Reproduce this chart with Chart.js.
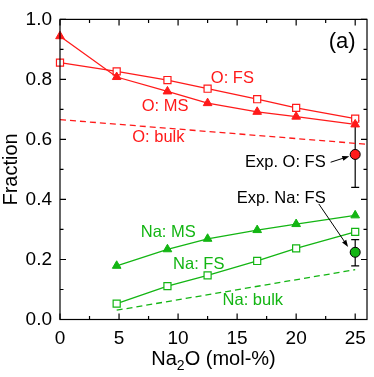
<!DOCTYPE html>
<html>
<head>
<meta charset="utf-8">
<script src="https://cdn.jsdelivr.net/npm/chart.js@4.4.1/dist/chart.umd.min.js"></script>
<style>
  html, body { margin: 0; padding: 0; background: #fff; }
  #wrap { width: 374px; height: 377px; }
</style>
</head>
<body>
<div id="wrap"><canvas id="myChart" width="374" height="377"></canvas></div>
<script>
// Na2O content (mol-%)
const naO = [0, 4.8, 9.1, 12.5, 16.7, 20, 25];
const oFS = [0.856, 0.827, 0.798, 0.769, 0.734, 0.705, 0.669];
const oMS = [0.944, 0.808, 0.760, 0.721, 0.692, 0.676, 0.650];
const oBulkX = [0, 26];
const oBulk = [0.666, 0.584];

const naX = [4.8, 9.1, 12.5, 16.7, 20, 25];
const naMS = [0.179, 0.234, 0.269, 0.298, 0.318, 0.347];
const naFS = [0.053, 0.111, 0.147, 0.195, 0.237, 0.292];
const naBulkX = [4.8, 25];
const naBulk = [0.031, 0.166];

const expX = [25];
const expOFS = [0.550];
const expOErr = [0.440, 0.663];
const expNaFS = [0.224];
const expNaErr = [0.179, 0.266];

const xTicks = [0, 5, 10, 15, 20, 25];
const yTicks = [0, 0.2, 0.4, 0.6, 0.8, 1.0];

const RED = '#ff1a1a';
const GREEN = '#13b513';
const FONT = '"Liberation Sans", Arial, Helvetica, sans-serif';

// text labels: [text, x, y, color, align]
const labels = [
    ['O: FS', 14.6, 0.803, RED, 'center'],
    ['O: MS', 8.9, 0.711, RED, 'center'],
    ['O: bulk', 8.33, 0.605, RED, 'center'],
    ['Exp. O: FS', 22.5, 0.524, '#000', 'right'],
    ['Exp. Na: FS', 22.5, 0.402, '#000', 'right'],
    ['Na: MS', 9.17, 0.289, GREEN, 'center'],
    ['Na: FS', 11.75, 0.185, GREEN, 'center'],
    ['Na: bulk', 16.33, 0.063, GREEN, 'center']
];
// arrows: [x0, y0, x1, y1]
const arrows = [
    [22.92, 0.524, 24.5, 0.544],
    [21.92, 0.385, 24.4, 0.242]
];

function pts(xs, ys) {
    return xs.map((x, i) => ({ x: x, y: ys[i] }));
}

const framePlugin = {
    id: 'frame',
    beforeDatasetsDraw(chart) {
        const ctx = chart.ctx;
        const xs = chart.scales.x, ys = chart.scales.y;
        ctx.save();
        ctx.strokeStyle = '#000';
        ctx.lineWidth = 1.2;
        // error bars
        const bars = [[expOFS, expOErr], [expNaFS, expNaErr]];
        bars.forEach(function(b) {
            const px = xs.getPixelForValue(expX[0]);
            const y0 = ys.getPixelForValue(b[1][0]);
            const y1 = ys.getPixelForValue(b[1][1]);
            ctx.beginPath();
            ctx.moveTo(px, y0); ctx.lineTo(px, y1);
            ctx.moveTo(px - 4, y0); ctx.lineTo(px + 4, y0);
            ctx.moveTo(px - 4, y1); ctx.lineTo(px + 4, y1);
            ctx.stroke();
        });
        ctx.restore();
    },
    afterDraw(chart) {
        const ctx = chart.ctx;
        const a = chart.chartArea;
        const xs = chart.scales.x, ys = chart.scales.y;
        ctx.save();
        ctx.strokeStyle = '#000';
        ctx.lineWidth = 1.2;
        ctx.strokeRect(a.left, a.top, a.right - a.left, a.bottom - a.top);

        // inner ticks on all sides
        ctx.beginPath();
        for (let v = 0; v <= 25.01; v += 2.5) {
            const p = xs.getPixelForValue(v);
            const len = (Math.round(v * 10) % 50 === 0) ? 6 : 3.5;
            ctx.moveTo(p, a.bottom); ctx.lineTo(p, a.bottom - len);
            ctx.moveTo(p, a.top); ctx.lineTo(p, a.top + len);
        }
        for (let v = 0; v <= 1.001; v += 0.1) {
            const p = ys.getPixelForValue(v);
            const len = (Math.round(v * 10) % 2 === 0) ? 6 : 3.5;
            ctx.moveTo(a.left, p); ctx.lineTo(a.left + len, p);
            ctx.moveTo(a.right, p); ctx.lineTo(a.right - len, p);
        }
        ctx.stroke();

        // annotation labels
        ctx.font = '16.5px ' + FONT;
        ctx.textBaseline = 'middle';
        labels.forEach(function(l) {
            ctx.fillStyle = l[3];
            ctx.textAlign = l[4];
            ctx.fillText(l[0], xs.getPixelForValue(l[1]), ys.getPixelForValue(l[2]));
        });

        // arrows
        ctx.fillStyle = '#000';
        ctx.lineWidth = 1;
        arrows.forEach(function(r) {
            const x0 = xs.getPixelForValue(r[0]), y0 = ys.getPixelForValue(r[1]);
            const x1 = xs.getPixelForValue(r[2]), y1 = ys.getPixelForValue(r[3]);
            const ang = Math.atan2(y1 - y0, x1 - x0);
            ctx.beginPath();
            ctx.moveTo(x0, y0); ctx.lineTo(x1 - 5 * Math.cos(ang), y1 - 5 * Math.sin(ang));
            ctx.stroke();
            ctx.beginPath();
            ctx.moveTo(x1, y1);
            ctx.lineTo(x1 - 7 * Math.cos(ang) + 2.5 * Math.sin(ang), y1 - 7 * Math.sin(ang) - 2.5 * Math.cos(ang));
            ctx.lineTo(x1 - 7 * Math.cos(ang) - 2.5 * Math.sin(ang), y1 - 7 * Math.sin(ang) + 2.5 * Math.cos(ang));
            ctx.closePath();
            ctx.fill();
        });

        // panel label
        ctx.fillStyle = '#000';
        ctx.textAlign = 'center';
        ctx.font = '22px ' + FONT;
        ctx.fillText('(a)', xs.getPixelForValue(23.9), ys.getPixelForValue(0.924));

        // axis titles
        ctx.font = '20px ' + FONT;
        ctx.save();
        ctx.translate(11, (a.top + a.bottom) / 2);
        ctx.rotate(-Math.PI / 2);
        ctx.textAlign = 'center';
        ctx.fillText('Fraction', 0, 0);
        ctx.restore();

        const t1 = 'Na', t2 = '2', t3 = 'O (mol-%)';
        ctx.font = '20px ' + FONT;
        const w1 = ctx.measureText(t1).width, w3 = ctx.measureText(t3).width;
        ctx.font = '14px ' + FONT;
        const w2 = ctx.measureText(t2).width;
        let x = (a.left + a.right) / 2 - (w1 + w2 + w3) / 2;
        const yb = 365;
        ctx.textAlign = 'left';
        ctx.textBaseline = 'alphabetic';
        ctx.font = '20px ' + FONT;
        ctx.fillText(t1, x, yb); x += w1;
        ctx.font = '14px ' + FONT;
        ctx.fillText(t2, x, yb + 5); x += w2;
        ctx.font = '20px ' + FONT;
        ctx.fillText(t3, x, yb);
        ctx.restore();
    }
};

const ctx = document.getElementById('myChart');
new Chart(ctx, {
    type: 'scatter',
    data: {
        datasets: [
            {
                label: 'O: bulk', data: pts(oBulkX, oBulk), showLine: true,
                borderColor: RED, borderWidth: 1.3, borderDash: [6, 4], pointRadius: 0
            },
            {
                label: 'Na: bulk', data: pts(naBulkX, naBulk), showLine: true,
                borderColor: GREEN, borderWidth: 1.3, borderDash: [6, 4], pointRadius: 0
            },
            {
                label: 'O: MS', data: pts(naO, oMS), showLine: true, clip: false,
                borderColor: RED, backgroundColor: RED, borderWidth: 1.3,
                pointStyle: 'triangle', pointRadius: 5, pointBorderWidth: 1
            },
            {
                label: 'O: FS', data: pts(naO, oFS), showLine: true, clip: false,
                borderColor: RED, backgroundColor: '#fff', borderWidth: 1.3,
                pointStyle: 'rect', pointRadius: 5, pointBorderWidth: 1.2
            },
            {
                label: 'Na: MS', data: pts(naX, naMS), showLine: true,
                borderColor: GREEN, backgroundColor: GREEN, borderWidth: 1.3,
                pointStyle: 'triangle', pointRadius: 5, pointBorderWidth: 1
            },
            {
                label: 'Na: FS', data: pts(naX, naFS), showLine: true,
                borderColor: GREEN, backgroundColor: '#fff', borderWidth: 1.3,
                pointStyle: 'rect', pointRadius: 5, pointBorderWidth: 1.2
            },
            {
                label: 'Exp. O: FS', data: pts(expX, expOFS),
                borderColor: '#000', backgroundColor: RED,
                pointStyle: 'circle', pointRadius: 5, pointBorderWidth: 1
            },
            {
                label: 'Exp. Na: FS', data: pts(expX, expNaFS),
                borderColor: '#000', backgroundColor: GREEN,
                pointStyle: 'circle', pointRadius: 5, pointBorderWidth: 1
            }
        ]
    },
    options: {
        responsive: false,
        animation: false,
        layout: { padding: { left: 0, top: 8, right: 2, bottom: 0 } },
        plugins: {
            legend: { display: false },
            tooltip: { enabled: false }
        },
        scales: {
            x: {
                type: 'linear', min: 0, max: 26,
                grid: { display: false, drawTicks: false },
                border: { display: false },
                afterBuildTicks: function(s) { s.ticks = xTicks.map(v => ({ value: v })); },
                afterFit: function(s) { s.height = 57.5; },
                ticks: {
                    color: '#000', padding: 8, maxRotation: 0,
                    font: { family: FONT, size: 19 }
                }
            },
            y: {
                type: 'linear', min: 0, max: 1,
                grid: { display: false, drawTicks: false },
                border: { display: false },
                afterBuildTicks: function(s) { s.ticks = yTicks.map(v => ({ value: v })); },
                afterFit: function(s) { s.width = 60; },
                ticks: {
                    color: '#000', padding: 8,
                    font: { family: FONT, size: 19 },
                    callback: function(value) { return value.toFixed(1); }
                }
            }
        }
    },
    plugins: [framePlugin]
});
</script>
</body>
</html>
